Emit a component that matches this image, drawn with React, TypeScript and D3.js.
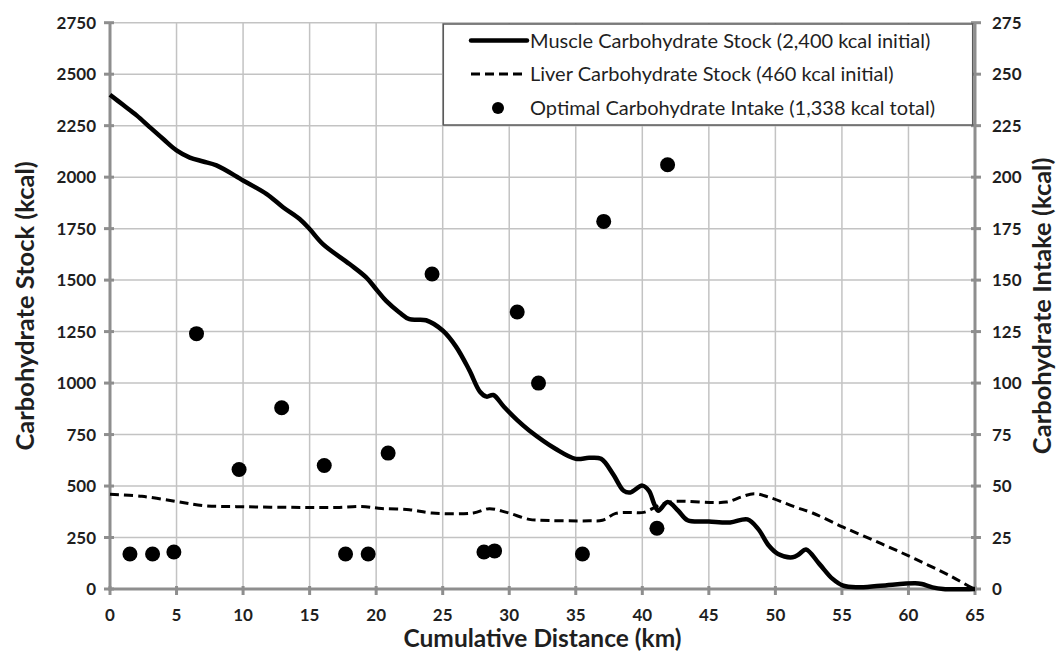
import React from "react";
import * as d3 from "d3";

// Muscle carbohydrate stock (kcal) vs cumulative distance (km)
const muscleKm = [0, 1, 2, 3, 4, 5, 6, 7, 8, 10, 11.75, 13, 14.25, 15, 16, 18, 19.25, 20, 20.75, 21.75, 22.5, 23.75, 25, 26, 27, 27.8, 28.3, 28.8, 29.6, 30.6, 31.5, 33.5, 35, 36, 36.9, 37.8, 38.6, 39.1, 40, 40.5, 40.9, 41.2, 41.9, 42.7, 43.4, 45, 46.6, 47.9, 48.7, 49.5, 50.2, 51.3, 51.8, 52.3, 53.3, 54.3, 55.1, 56.1, 57.9, 60.5, 61, 61.8, 62.6, 65];
const muscleKcal = [2400, 2350, 2300, 2242, 2185, 2130, 2095, 2076, 2057, 1984, 1919, 1854, 1797, 1748, 1675, 1578, 1513, 1456, 1399, 1343, 1310, 1305, 1255, 1177, 1063, 958, 934, 942, 885, 820, 770, 680, 632, 637, 632, 558, 477, 469, 502, 477, 412, 380, 422, 380, 334, 328, 323, 338, 292, 211, 170, 154, 170, 192, 122, 49, 16, 8, 16, 28, 24, 8, 0, 0];

// Liver carbohydrate stock (kcal)
const liverKm = [0, 2.4, 5, 7, 9.5, 14.6, 17, 18.9, 20.4, 22.5, 24.2, 27.3, 28.5, 29.8, 31.5, 32.2, 36, 37, 38, 39.1, 40.1, 41.2, 42.2, 46.3, 47.4, 48.4, 49.5, 51.5, 52.8, 55.1, 58, 60.5, 63.1, 64.7, 65];
const liverKcal = [460, 450, 425, 405, 400, 396, 396, 401, 391, 385, 369, 369, 390, 372, 338, 334, 331, 334, 367, 372, 372, 404, 424, 422, 446, 463, 446, 398, 369, 300, 219, 146, 65, 8, 0];

// Optimal carbohydrate intake (kcal, right axis)
const intakeKm = [1.5, 3.2, 4.8, 6.5, 9.7, 12.9, 16.1, 17.7, 19.4, 20.9, 24.2, 28.1, 28.9, 30.6, 32.2, 35.5, 37.1, 41.1, 41.9];
const intakeKcal = [17, 17, 18, 124, 58, 88, 60, 17, 17, 66, 153, 18, 18.5, 134.5, 100, 17, 178.5, 29.5, 206];

const xTicks = d3.range(0, 66, 5);
const leftTicks = d3.range(0, 2751, 250);
const rightTicks = d3.range(0, 276, 25);

const legendLabels = [
  "Muscle Carbohydrate Stock (2,400 kcal initial)",
  "Liver Carbohydrate Stock (460 kcal initial)",
  "Optimal Carbohydrate Intake (1,338 kcal total)",
];

const W = 1058;
const H = 655;
const L = 110, R = 975, T = 22.7, B = 589;
const FONT = "Lato, 'Open Sans', sans-serif";

export default function App() {
  const x = d3.scaleLinear().domain([0, 65]).range([L, R]);
  const yL = d3.scaleLinear().domain([0, 2750]).range([B, T]);
  const yR = d3.scaleLinear().domain([0, 275]).range([B, T]);

  const line = d3
    .line<[number, number]>()
    .x((d) => x(d[0]))
    .y((d) => yL(d[1]))
    .curve(d3.curveCatmullRom.alpha(0.5));

  const muscle = muscleKm.map((k, i) => [k, muscleKcal[i]] as [number, number]);
  const liver = liverKm.map((k, i) => [k, liverKcal[i]] as [number, number]);

  const gridColor = "#c3c3c3";
  const axisColor = "#8e8e8e";
  const textColor = "#1f1f1f";

  const legX = 443.3, legY = 24, legW = 972.7 - 443.3, legH = 125 - 24;
  const rowY = [40.5, 74, 108];

  return (
    <svg width={W} height={H} style={{ position: "absolute", left: 0, top: 0, background: "#fff" }} fontFamily={FONT}>
      <rect x={0} y={0} width={W} height={H} fill="#fff" />
      {/* grid */}
      {xTicks.map((t) => (
        <line key={"gx" + t} x1={x(t)} x2={x(t)} y1={T} y2={B} stroke={gridColor} strokeWidth={1.5} />
      ))}
      {leftTicks.map((t) => (
        <line key={"gy" + t} x1={L} x2={R} y1={yL(t)} y2={yL(t)} stroke={gridColor} strokeWidth={1.5} />
      ))}
      {/* axes */}
      <line x1={L} x2={L} y1={T} y2={B + 1.5} stroke={axisColor} strokeWidth={3} />
      <line x1={R} x2={R} y1={T} y2={B + 1.5} stroke={axisColor} strokeWidth={3} />
      <line x1={L - 1.5} x2={R + 1.5} y1={B} y2={B} stroke={axisColor} strokeWidth={3} />
      {leftTicks.map((t) => (
        <line key={"lt" + t} x1={L - 6} x2={L + 4} y1={yL(t)} y2={yL(t)} stroke={axisColor} strokeWidth={3} />
      ))}
      {rightTicks.map((t) => (
        <line key={"rt" + t} x1={R - 4} x2={R + 6} y1={yR(t)} y2={yR(t)} stroke={axisColor} strokeWidth={3} />
      ))}
      {xTicks.map((t) => (
        <line key={"xt" + t} x1={x(t)} x2={x(t)} y1={B - 3} y2={B + 6} stroke={axisColor} strokeWidth={3} />
      ))}
      {/* tick labels */}
      {leftTicks.map((t) => (
        <text key={"ll" + t} x={96} y={yL(t)} dy="0.36em" textAnchor="end" fontSize={17} fontWeight={700} fill={textColor}>
          {t}
        </text>
      ))}
      {rightTicks.map((t) => (
        <text key={"rl" + t} x={992} y={yR(t)} dy="0.36em" textAnchor="start" fontSize={17} fontWeight={700} fill={textColor}>
          {t}
        </text>
      ))}
      {xTicks.map((t) => (
        <text key={"xl" + t} x={x(t)} y={615} dy="0.36em" textAnchor="middle" fontSize={17} fontWeight={700} fill={textColor}>
          {t}
        </text>
      ))}
      {/* axis titles */}
      <text x={(L + R) / 2} y={647} textAnchor="middle" fontSize={24.5} fontWeight={700} fill={textColor}>
        Cumulative Distance (km)
      </text>
      <text transform={`translate(33.5,${(T + B) / 2}) rotate(-90)`} textAnchor="middle" fontSize={25.5} fontWeight={700} fill={textColor}>
        Carbohydrate Stock (kcal)
      </text>
      <text transform={`translate(1051,${(T + B) / 2}) rotate(-90)`} textAnchor="middle" fontSize={25.5} fontWeight={700} fill={textColor}>
        Carbohydrate Intake (kcal)
      </text>
      {/* series */}
      <path d={line(liver) || ""} fill="none" stroke="#000" strokeWidth={3} strokeDasharray="9,5" />
      <path d={line(muscle) || ""} fill="none" stroke="#000" strokeWidth={4.5} strokeLinejoin="round" />
      {intakeKm.map((k, i) => (
        <circle key={"d" + i} cx={x(k)} cy={yR(intakeKcal[i])} r={7.5} fill="#000" />
      ))}
      {/* legend */}
      <rect x={legX} y={legY} width={legW} height={legH} fill="#fff" stroke="#5a5a5a" strokeWidth={1.5} />
      <line x1={471} x2={527} y1={rowY[0]} y2={rowY[0]} stroke="#000" strokeWidth={4.5} strokeLinecap="round" />
      <line x1={471} x2={527} y1={rowY[1]} y2={rowY[1]} stroke="#000" strokeWidth={3} strokeDasharray="9,5" />
      <circle cx={498} cy={rowY[2]} r={6} fill="#000" />
      {legendLabels.map((s, i) => (
        <text key={"lg" + i} x={530} y={rowY[i]} dy="0.36em" fontSize={20} fill={textColor}>
          {s}
        </text>
      ))}
    </svg>
  );
}
